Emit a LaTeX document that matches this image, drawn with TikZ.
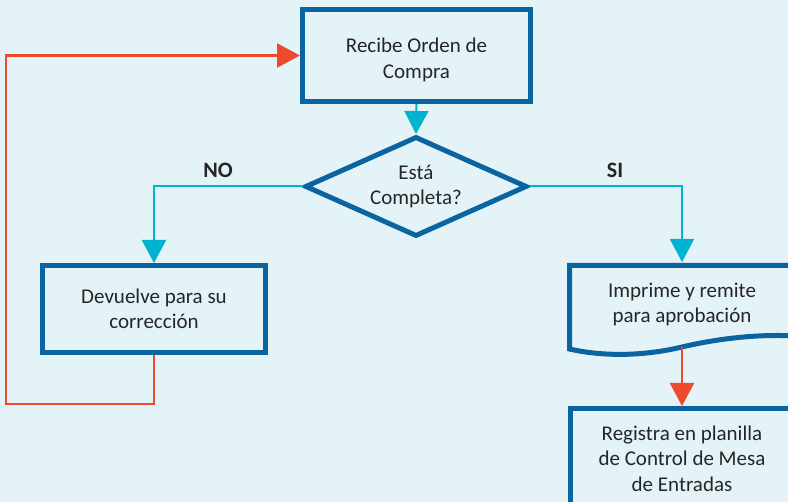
\documentclass[tikz,border=0pt]{standalone}
\usepackage{fontspec}
\setmainfont{Carlito}
\usetikzlibrary{arrows.meta,shapes.geometric}
\definecolor{fondo}{HTML}{E4F3F7}
\definecolor{azul}{HTML}{0A64A0}
\definecolor{celeste}{HTML}{00B3D1}
\definecolor{rojo}{HTML}{EE4B2E}
\definecolor{texto}{HTML}{262626}

\begin{document}
\begin{tikzpicture}[x=1pt,y=-1pt,
    textocaja/.style={inner sep=0pt, align=center, text=texto, font=\fontsize{21}{25.5}\selectfont},
    caja/.style={textocaja, draw=azul, line width=5pt, minimum width=223pt, minimum height=87pt},
    decision/.style={caja, shape=diamond, aspect=2.2, minimum width=222pt, minimum height=100pt},
    rotulo/.style={text=texto, font=\fontsize{22}{26}\selectfont\bfseries},
    flecha/.style={draw=celeste, line width=2pt, -{Triangle[length=23pt,width=24pt]}},
    retorno/.style={draw=rojo, line width=2.5pt, -{Triangle[length=23pt,width=24pt]}}]
  \useasboundingbox (0,0) rectangle (788,502);
  \fill[fondo] (0,0) rectangle (788,502);
  \clip (0,0) rectangle (788,502);

  % nodos
  \node[caja, minimum width=228pt, minimum height=92pt] (recibe) at (416.5,55.5) {};
  \node[textocaja] (recibe texto) at (416.5,60) {Recibe Orden de\\Compra};
  \node[decision] (completa) at (416,186.5) {Está\\Completa?};
  \node[caja] (devuelve) at (154,309) {Devuelve para su\\corrección};
  \node[caja, draw=none, minimum height=80pt] (imprime) at (682,304.5) {Imprime y remite\\para aprobación};
  \node[caja, minimum height=100pt, anchor=north] (registra) at (682,406) {Registra en planilla\\de Control de Mesa\\de Entradas};

  % documento
  \draw[azul, line width=5pt] (569.5,349) -- (569.5,265.5) -- (796,265.5) -- (796,336)
    .. controls (760,334) and (720,338) .. (682,347)
    .. controls (640,357) and (600,356) .. (569.5,349) -- cycle;

  \node[rotulo] (no) at (218,170) {NO};
  \node[rotulo] (si) at (615,170) {SI};

  \coordinate (vuelta) at (6,404);

  % conectores
  \draw[flecha] (recibe.south) -- (completa.north);
  \draw[flecha] (completa.west) -| (devuelve.north);
  \draw[flecha] (completa.east) -| (imprime.north);
  \draw[retorno] (devuelve.south) |- (vuelta) |- (recibe.west);
  \draw[retorno] (imprime.south) -- (registra.north);
\end{tikzpicture}
\end{document}
